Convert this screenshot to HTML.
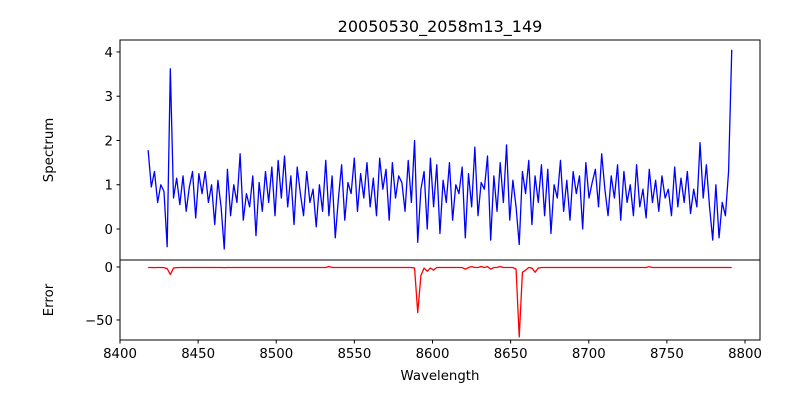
<!DOCTYPE html>
<html><head><meta charset="utf-8"><style>
body{margin:0;background:#fff}
svg text{font-family:"DejaVu Sans","Liberation Sans",sans-serif;fill:#000}
</style></head><body>
<svg id="chart" width="800" height="400" viewBox="0 0 800 400">
<rect width="800" height="400" fill="#fff"/>
<text x="440" y="32" font-size="16" text-anchor="middle">20050530_2058m13_149</text>
<g id="topg"></g><g id="botg"></g>
</svg>
<script>
const wlStart = 8418, wlStep = 2.03;
const spectrum = [
1.78,0.95,1.3,0.6,1.0,0.85,-0.4,3.62,0.7,1.15,
0.55,1.2,0.4,0.95,1.3,0.25,1.25,0.8,1.3,0.6,
1.0,0.1,1.1,0.5,-0.45,1.35,0.3,1.0,0.6,1.7,
0.2,0.8,0.5,1.2,-0.15,1.05,0.4,1.3,0.6,1.4,
0.3,1.55,0.7,1.65,0.5,1.2,0.1,1.4,0.8,0.3,
1.3,0.6,0.9,0.05,1.0,0.4,1.55,0.3,1.2,-0.2,
0.7,1.45,0.2,1.05,0.8,1.6,0.4,1.25,0.7,1.5,
0.5,1.15,0.3,1.6,0.9,1.35,0.2,1.5,0.7,1.2,
1.05,0.4,1.55,0.6,2.0,-0.3,0.9,1.3,0.0,1.6,
0.5,1.45,-0.1,1.1,0.6,1.5,0.2,1.0,0.8,1.4,
-0.2,1.25,0.5,1.85,0.3,1.05,0.9,1.65,-0.25,1.2,
0.4,1.5,0.6,1.9,0.2,1.1,0.5,-0.35,1.3,0.8,
1.55,0.1,1.2,0.6,1.45,0.3,1.35,-0.1,1.0,0.7,
1.55,0.4,1.1,0.2,1.3,0.8,1.2,0.0,1.5,0.7,
1.05,1.35,0.5,1.7,0.9,0.3,1.2,0.7,1.45,0.2,
1.3,0.6,1.0,0.3,1.45,0.5,0.9,0.25,1.35,0.6,
1.1,0.4,1.2,0.7,0.9,0.3,1.4,0.5,1.15,0.6,
1.3,0.35,0.9,0.5,1.95,0.7,1.45,0.5,-0.25,1.0,
-0.2,0.6,0.3,1.3,4.05];
const errorVals = [
-0.5,-0.5,-0.6,-0.5,-0.5,-0.6,-1.5,-7,-1,-0.6,
-0.5,-0.5,-0.5,-0.5,-0.5,-0.5,-0.5,-0.5,-0.5,-0.5,
-0.5,-0.5,-0.5,-0.5,-0.6,-0.5,-0.5,-0.5,-0.5,-0.5,
-0.5,-0.5,-0.5,-0.5,-0.5,-0.5,-0.5,-0.5,-0.5,-0.5,
-0.5,-0.5,-0.5,-0.5,-0.5,-0.5,-0.5,-0.5,-0.5,-0.5,
-0.5,-0.5,-0.5,-0.5,-0.5,-0.5,-0.5,0.5,-0.5,-0.5,
-0.5,-0.5,-0.5,-0.5,-0.5,-0.5,-0.5,-0.5,-0.5,-0.5,
-0.5,-0.5,-0.5,-0.5,-0.5,-0.5,-0.5,-0.5,-0.5,-0.5,
-0.5,-0.5,-0.5,-0.5,-1,-43,-8,-1,-4,-1,
-3,-0.5,-0.5,-0.5,-0.5,-0.5,-0.5,-0.5,-0.5,-0.5,
-2,-0.5,0.3,-0.5,-0.5,0.5,-0.5,0.3,-2,-0.5,
-0.5,0.5,-0.5,-0.5,-0.5,-0.5,-2,-66,-5,-3,
-0.5,-1,-5,-1,-0.5,-0.5,-0.5,-0.5,-0.5,-0.5,
-0.5,-0.5,-0.5,-0.5,-0.5,-0.5,-0.5,-0.5,-0.5,-0.5,
-0.5,-0.5,-0.5,-0.5,-0.5,-0.5,-0.5,-0.5,-0.5,-0.5,
-0.5,-0.5,-0.5,-0.5,-0.5,-0.5,-0.5,-0.5,0.2,-0.5,
-0.5,-0.5,-0.5,-0.5,-0.5,-0.5,-0.5,-0.5,-0.5,-0.5,
-0.5,-0.5,-0.5,-0.5,-0.5,-0.5,-0.5,-0.5,-0.5,-0.5,
-0.5,-0.5,-0.5,-0.5,-0.5];
const xTicks = [8400,8450,8500,8550,8600,8650,8700,8750,8800];
const yTopTicks = [0,1,2,3,4];
const yBotTicks = [0,-50];

const NS = "http://www.w3.org/2000/svg";
const L = 120, R = 760;
const xMin = 8400, xMax = 8809.6;
const X = v => L + (v - xMin) / (xMax - xMin) * (R - L);
const topT = 40, topB = 260, tMin = -0.7, tMax = 4.27;
const YT = v => topB - (v - tMin) / (tMax - tMin) * (topB - topT);
const botT = 260, botB = 340, bMin = -68.9, bMax = 6.6;
const YB = v => botB - (v - bMin) / (bMax - bMin) * (botB - botT);

function mk(tag, attrs, parent) {
  const e = document.createElementNS(NS, tag);
  for (const k in attrs) e.setAttribute(k, attrs[k]);
  parent.appendChild(e);
  return e;
}
const gTop = document.getElementById('topg');
const gBot = document.getElementById('botg');

let d = spectrum.map((v, i) => (i ? 'L' : 'M') + X(wlStart + i * wlStep).toFixed(2) + ' ' + YT(v).toFixed(2)).join('');
const sl = mk('path', {d: d, fill: 'none', stroke: '#0000ff', 'stroke-width': 1.3, 'stroke-linejoin': 'round'}, gTop);



d = errorVals.map((v, i) => (i ? 'L' : 'M') + X(wlStart + i * wlStep).toFixed(2) + ' ' + YB(v).toFixed(2)).join('');
const el = mk('path', {d: d, fill: 'none', stroke: '#ff0000', 'stroke-width': 1.3, 'stroke-linejoin': 'round'}, gBot);



const f1 = mk('rect', {x: L, y: topT, width: R - L, height: topB - topT, fill: 'none', stroke: '#000', 'stroke-width': 1}, gTop);


const f2 = mk('rect', {x: L, y: botT, width: R - L, height: botB - botT, fill: 'none', stroke: '#000', 'stroke-width': 1}, gBot);



yTopTicks.forEach(v => {
  const y = YT(v);
  mk('line', {x1: L - 3.5, x2: L, y1: y, y2: y, stroke: '#000'}, gTop);
  const t = mk('text', {x: L - 7, y: y + 5, 'font-size': 13.3, 'text-anchor': 'end'}, gTop);
  t.textContent = v;
  
  
});
yBotTicks.forEach(v => {
  const y = YB(v);
  mk('line', {x1: L - 3.5, x2: L, y1: y, y2: y, stroke: '#000'}, gBot);
  const t = mk('text', {x: L - 7, y: y + 5, 'font-size': 13.3, 'text-anchor': 'end'}, gBot);
  t.textContent = v < 0 ? '\u2212' + (-v) : v;
  
  
});
xTicks.forEach(v => {
  const x = X(v);
  mk('line', {x1: x, x2: x, y1: botB, y2: botB + 3.5, stroke: '#000'}, gBot);
  const t = mk('text', {x: x, y: botB + 18, 'font-size': 13.3, 'text-anchor': 'middle'}, gBot);
  t.textContent = v;
  
  
});
const xl = mk('text', {x: 440, y: 380, 'font-size': 13.3, 'text-anchor': 'middle'}, gBot);
xl.textContent = 'Wavelength';


const yl = mk('text', {x: 53, y: 150, 'font-size': 13.3, 'text-anchor': 'middle', transform: 'rotate(-90 53 150)'}, gTop);
yl.textContent = 'Spectrum';


const y2 = mk('text', {x: 53, y: 300, 'font-size': 13.3, 'text-anchor': 'middle', transform: 'rotate(-90 53 300)'}, gBot);
y2.textContent = 'Error';


</script>
</body></html>
